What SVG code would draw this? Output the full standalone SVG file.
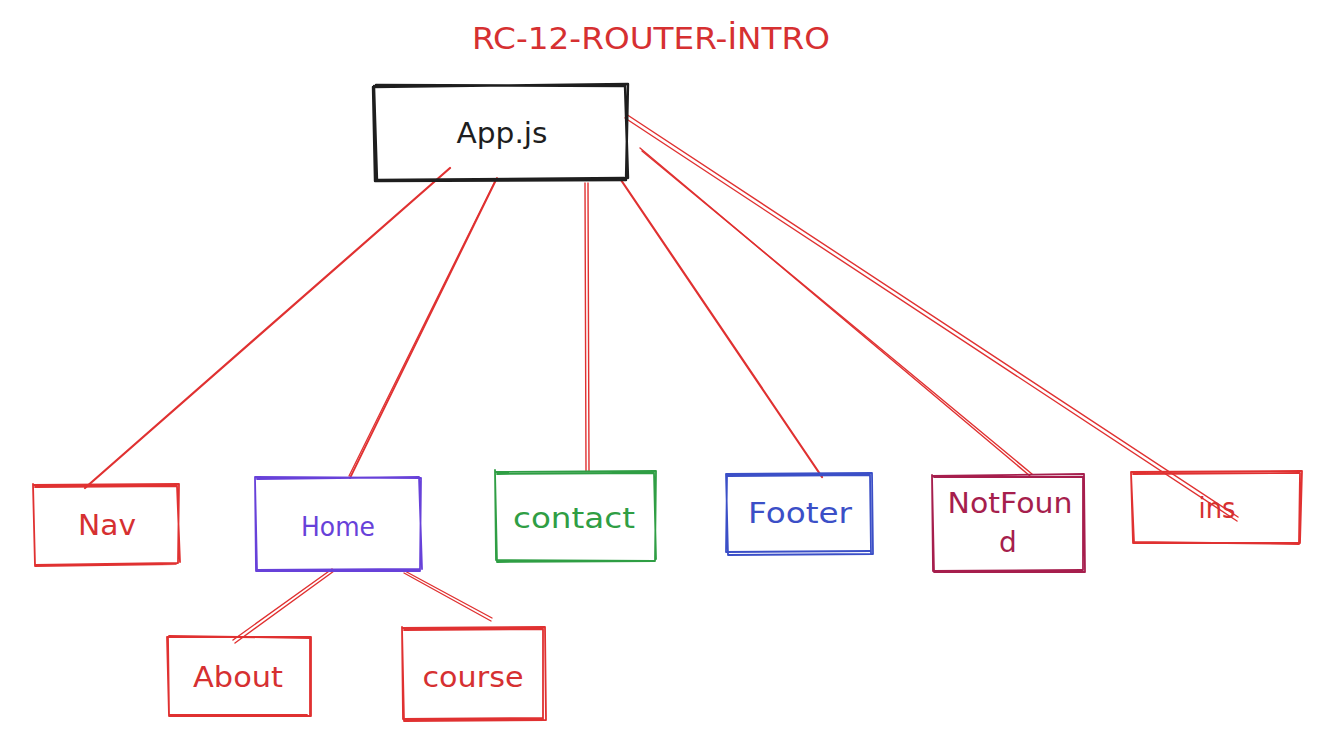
<svg xmlns="http://www.w3.org/2000/svg" width="1336" height="744" viewBox="0 0 1336 744">
<style>
.box{fill:none;stroke-linecap:round;stroke-linejoin:round}
.lbl{font-family:"DejaVu Sans","Liberation Sans",sans-serif;text-anchor:middle}
.con line{stroke:#e03131;stroke-linecap:round}
.red{stroke:#e03131}
.tred{fill:#d63031}
</style>
<rect width="1336" height="744" fill="#ffffff"/>
<text class="lbl tred" x="651" y="49" font-size="30" textLength="358" lengthAdjust="spacingAndGlyphs">RC-12-ROUTER-İNTRO</text>

<g id="connectors" class="con">
  <line x1="450" y1="168" x2="85" y2="488" stroke-width="2.2"/>
  <line x1="497" y1="178" x2="350" y2="478" stroke-width="1.8"/>
  <line x1="496" y1="179" x2="349" y2="476" stroke-width="1.3"/>
  <line x1="585" y1="183" x2="586" y2="471" stroke-width="1.4"/>
  <line x1="588" y1="183" x2="589" y2="471" stroke-width="1.4"/>
  <line x1="621" y1="180" x2="822" y2="477" stroke-width="2.2"/>
  <line x1="640" y1="148" x2="1030" y2="476" stroke-width="1.4"/>
  <line x1="642" y1="151" x2="1032" y2="474" stroke-width="1.4"/>
  <line x1="626" y1="114" x2="1238" y2="517" stroke-width="1.4"/>
  <line x1="625" y1="118" x2="1237" y2="521" stroke-width="1.4"/>
  <line x1="332" y1="569" x2="233" y2="640" stroke-width="1.4"/>
  <line x1="334" y1="571" x2="235" y2="643" stroke-width="1.4"/>
  <line x1="403" y1="570" x2="492" y2="618" stroke-width="1.4"/>
  <line x1="404" y1="573" x2="491" y2="621" stroke-width="1.4"/>
</g>

<g id="app">
  <path class="box" stroke="#1e1e1e" stroke-width="2.4" d="M373 87 L628 84 L626 180 L375 181 Z M376 85 L625 86 L628 178 M374 86 L377 180 L624 178"/>
  <text class="lbl" x="502" y="143" font-size="28" fill="#1e1e1e" textLength="91" lengthAdjust="spacingAndGlyphs">App.js</text>
</g>

<g id="nav">
  <path class="box red" stroke-width="1.8" d="M33 485 L179 484 L178 563 L35 565 Z M35 487 L177 486 L180 562 M33 484 L35 566 L176 564"/>
  <text class="lbl tred" x="107" y="535" font-size="28" textLength="58" lengthAdjust="spacingAndGlyphs">Nav</text>
</g>

<g id="home">
  <path class="box" stroke="#6741d9" stroke-width="1.8" d="M255 477 L421 478 L420 571 L256 571 Z M257 479 L419 477 L422 569 M255 479 L257 570 L420 569"/>
  <text class="lbl" x="338" y="536" font-size="27" fill="#6741d9" textLength="74" lengthAdjust="spacingAndGlyphs">Home</text>
</g>

<g id="contact">
  <path class="box" stroke="#2f9e44" stroke-width="1.8" d="M495 472 L656 471 L655 561 L497 562 Z M497 474 L654 473 L656 559 M495 470 L496 560 L654 561"/>
  <text class="lbl" x="574" y="528" font-size="28" fill="#2f9e44" textLength="122" lengthAdjust="spacingAndGlyphs">contact</text>
</g>

<g id="footer">
  <path class="box" stroke="#3b4fc7" stroke-width="1.8" d="M726 474 L872 473 L873 554 L728 555 Z M728 476 L870 475 L871 553 M727 475 L726 552 L870 551"/>
  <text class="lbl" x="800" y="523" font-size="28" fill="#3b4fc7" textLength="104" lengthAdjust="spacingAndGlyphs">Footer</text>
</g>

<g id="notfound">
  <path class="box" stroke="#a61e4d" stroke-width="1.8" d="M932 476 L1084 474 L1085 572 L934 572 Z M934 477 L1083 477 L1083 570 M932 475 L933 571 L1082 570"/>
  <text class="lbl" x="1010" y="513" font-size="28" fill="#a61e4d" textLength="125" lengthAdjust="spacingAndGlyphs">NotFoun</text>
  <text class="lbl" x="1008" y="552" font-size="28" fill="#a61e4d">d</text>
</g>

<g id="ins">
  <path class="box red" stroke-width="1.8" d="M1131 472 L1302 471 L1300 543 L1133 543 Z M1133 474 L1300 473 L1299 542 M1131 473 L1134 542 L1299 544"/>
  <text class="lbl tred" x="1217" y="518" font-size="28" textLength="37" lengthAdjust="spacingAndGlyphs">ins</text>
</g>

<g id="about">
  <path class="box red" stroke-width="1.8" d="M167 637 L311 637 L311 716 L169 716 Z M169 636 L310 638 L310 715 M168 638 L169 715 L307 715"/>
  <text class="lbl tred" x="238" y="687" font-size="28" textLength="90" lengthAdjust="spacingAndGlyphs">About</text>
</g>

<g id="course">
  <path class="box red" stroke-width="1.8" d="M402 628 L545 627 L546 720 L404 721 Z M404 630 L543 629 L543 719 M402 627 L403 719 L543 718"/>
  <text class="lbl tred" x="473" y="687" font-size="28" textLength="101" lengthAdjust="spacingAndGlyphs">course</text>
</g>
</svg>
